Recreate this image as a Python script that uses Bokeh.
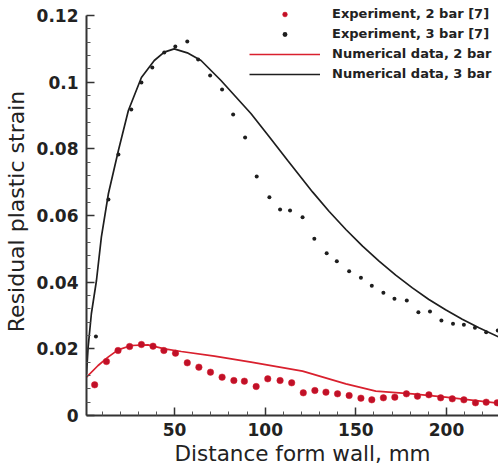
from bokeh.plotting import figure
from bokeh.models import Range1d, FixedTicker, Legend, LegendItem, Title
from bokeh.embed import file_html
from bokeh.resources import INLINE

# ---- data ----
num3_x = [1.4, 2.3, 4.1, 6.9, 9.6, 13.5, 19.0, 24.5, 31.7, 38.8, 44.3, 49.8, 57.0,
          64.6, 75.6, 92.1, 102.0, 112.4, 126.2, 135.3, 144.5, 153.7, 162.8, 172.0,
          181.2, 190.3, 199.5, 208.7, 217.9, 228.7]
num3_y = [0.0125, 0.0205, 0.0306, 0.0405, 0.0535, 0.0666, 0.0795, 0.0915, 0.1014,
          0.1065, 0.1090, 0.1100, 0.1088, 0.1065, 0.1005, 0.0906, 0.0838, 0.0765,
          0.0670, 0.0612, 0.0558, 0.0508, 0.0463, 0.0421, 0.0383, 0.0348, 0.0317,
          0.0289, 0.0263, 0.0236]

num2_x = [1.4, 7.8, 13.3, 18.8, 26.1, 35.3, 44.5, 53.7, 72.0, 92.2, 120.6,
          144.5, 161.0, 181.2, 199.5, 228.7]
num2_y = [0.0115, 0.0150, 0.0175, 0.0197, 0.0210, 0.0212, 0.0200, 0.0192, 0.0178,
          0.0160, 0.0133, 0.0095, 0.0073, 0.0065, 0.0055, 0.0037]

exp3_x = [6.6, 13.5, 19.0, 26.1, 31.7, 37.7, 44.3, 50.4, 57.0, 63.0, 69.6, 76.2,
          82.3, 88.9, 95.3, 102.3, 108.2, 113.7, 120.6, 127.1, 133.9, 139.5, 146.3,
          152.8, 158.8, 165.2, 171.3, 178.1, 184.5, 190.9, 197.2, 203.6, 209.6,
          215.7, 221.9, 228.3]
exp3_y = [0.0237, 0.0648, 0.0783, 0.0918, 0.0999, 0.1044, 0.1089, 0.1107, 0.1122,
          0.1068, 0.1020, 0.0978, 0.0903, 0.0834, 0.0717, 0.0655, 0.0618, 0.0615,
          0.0595, 0.0530, 0.0487, 0.0463, 0.0433, 0.0413, 0.0389, 0.0368, 0.0350,
          0.0345, 0.0310, 0.0312, 0.0285, 0.0275, 0.0272, 0.0263, 0.0250, 0.0255]

exp2_x = [5.9, 12.4, 18.8, 25.2, 31.7, 38.1, 44.1, 50.5, 57.0, 63.4, 69.8, 76.2,
          82.7, 88.5, 95.0, 101.4, 108.2, 114.6, 121.0, 127.4, 133.5, 139.9, 146.3,
          152.8, 158.8, 165.2, 171.5, 177.9, 184.0, 190.3, 196.8, 203.2, 209.6,
          216.0, 221.9, 228.0]
exp2_y = [0.0092, 0.0162, 0.0195, 0.0207, 0.0213, 0.0208, 0.0195, 0.0187, 0.0158,
          0.0145, 0.0130, 0.0115, 0.0105, 0.0103, 0.0087, 0.0110, 0.0105, 0.0098,
          0.0068, 0.0075, 0.0070, 0.0065, 0.0060, 0.0052, 0.0047, 0.0053, 0.0055,
          0.0065, 0.0058, 0.0062, 0.0053, 0.0050, 0.0047, 0.0038, 0.0040, 0.0038]

x_ticks = [50, 100, 150, 200]
x_tick_labels = ["50", "100", "150", "200"]
y_ticks = [0.0, 0.02, 0.04, 0.06, 0.08, 0.1, 0.12]
y_tick_labels = ["0", "0.02", "0.04", "0.06", "0.08", "0.1", "0.12"]

legend_labels = ["Experiment, 2 bar [7]", "Experiment, 3 bar [7]",
                 "Numerical data, 2 bar", "Numerical data, 3 bar"]
x_title = "Distance form wall, mm"
y_title = "Residual plastic strain"

# ---- figure ----
X0, X1 = 1.4, 228.7
Y0, Y1 = 0.0, 0.1224
FONT = "DejaVu Sans"

p = figure(width=498, height=471, output_backend="svg", toolbar_location=None,
           x_range=Range1d(X0, X1), y_range=Range1d(Y0, Y1),
           min_border_left=85, min_border_right=0, min_border_top=7,
           min_border_bottom=56)
p.background_fill_color = "white"
p.border_fill_color = "white"
p.outline_line_color = None
p.grid.visible = False

for ax in (p.xaxis[0], p.yaxis[0]):
    ax.axis_line_width = 2
    ax.axis_line_color = "#333333"
    ax.major_tick_line_color = "#333333"
    ax.major_tick_line_width = 1.5
    ax.minor_tick_line_color = "#555555"
    ax.minor_tick_line_width = 1
    ax.major_tick_in = 8
    ax.major_tick_out = 0
    ax.minor_tick_in = 4
    ax.minor_tick_out = 0
    ax.major_label_text_font = FONT
    ax.major_label_text_font_style = "bold"
    ax.major_label_text_font_size = "17px"
    ax.major_label_text_color = "#222222"

x_minor = [v for v in range(10, 230, 10) if v not in x_ticks]
p.xaxis[0].ticker = FixedTicker(ticks=x_ticks, minor_ticks=x_minor)
p.xaxis[0].major_label_overrides = {t: l for t, l in zip(x_ticks, x_tick_labels)}
p.xaxis[0].major_label_standoff = 7

y_minor = [round(i * 0.004, 3) for i in range(0, 31) if i % 5 != 0]
p.yaxis[0].ticker = FixedTicker(ticks=y_ticks, minor_ticks=y_minor)
p.yaxis[0].major_label_overrides = {t: l for t, l in zip(y_ticks, y_tick_labels)}
p.yaxis[0].major_label_standoff = 8
p.yaxis[0].bounds = (0, 0.12)
p.yaxis[0].axis_label = y_title
p.yaxis[0].axis_label_standoff = 5
p.yaxis[0].axis_label_text_font = FONT
p.yaxis[0].axis_label_text_font_style = "normal"
p.yaxis[0].axis_label_text_font_size = "22px"
p.yaxis[0].axis_label_text_color = "#222222"

xt = Title(text=x_title, align="left", offset=88, standoff=0,
           text_font=FONT, text_font_style="normal", text_font_size="21.5px",
           text_color="#222222")
p.add_layout(xt, "below")

RED = "#d9202e"
DARKRED = "#c01028"
BLACK = "#1e1e1e"

r_num2 = p.line(num2_x, num2_y, line_color=RED, line_width=1.7)
r_num3 = p.line(num3_x, num3_y, line_color=BLACK, line_width=1.7)
r_exp2 = p.scatter(exp2_x, exp2_y, size=6.5, fill_color=DARKRED, line_color=RED,
                   line_alpha=0.5, line_width=1)
r_exp3 = p.scatter(exp3_x, exp3_y, size=4, fill_color=BLACK, line_color=None)

legend = Legend(items=[
    LegendItem(label=legend_labels[0], renderers=[r_exp2]),
    LegendItem(label=legend_labels[1], renderers=[r_exp3]),
    LegendItem(label=legend_labels[2], renderers=[r_num2]),
    LegendItem(label=legend_labels[3], renderers=[r_num3]),
], location=(163, 334))
legend.background_fill_alpha = 0
legend.border_line_alpha = 0
legend.padding = 0
legend.margin = 0
legend.spacing = 5
legend.glyph_width = 71
legend.glyph_height = 12
legend.label_height = 12
legend.label_standoff = 12
legend.label_text_font = FONT
legend.label_text_font_style = "bold"
legend.label_text_font_size = "13px"
legend.label_text_color = "#222222"
p.add_layout(legend)

open("out.html", "w").write(file_html(p, INLINE))
